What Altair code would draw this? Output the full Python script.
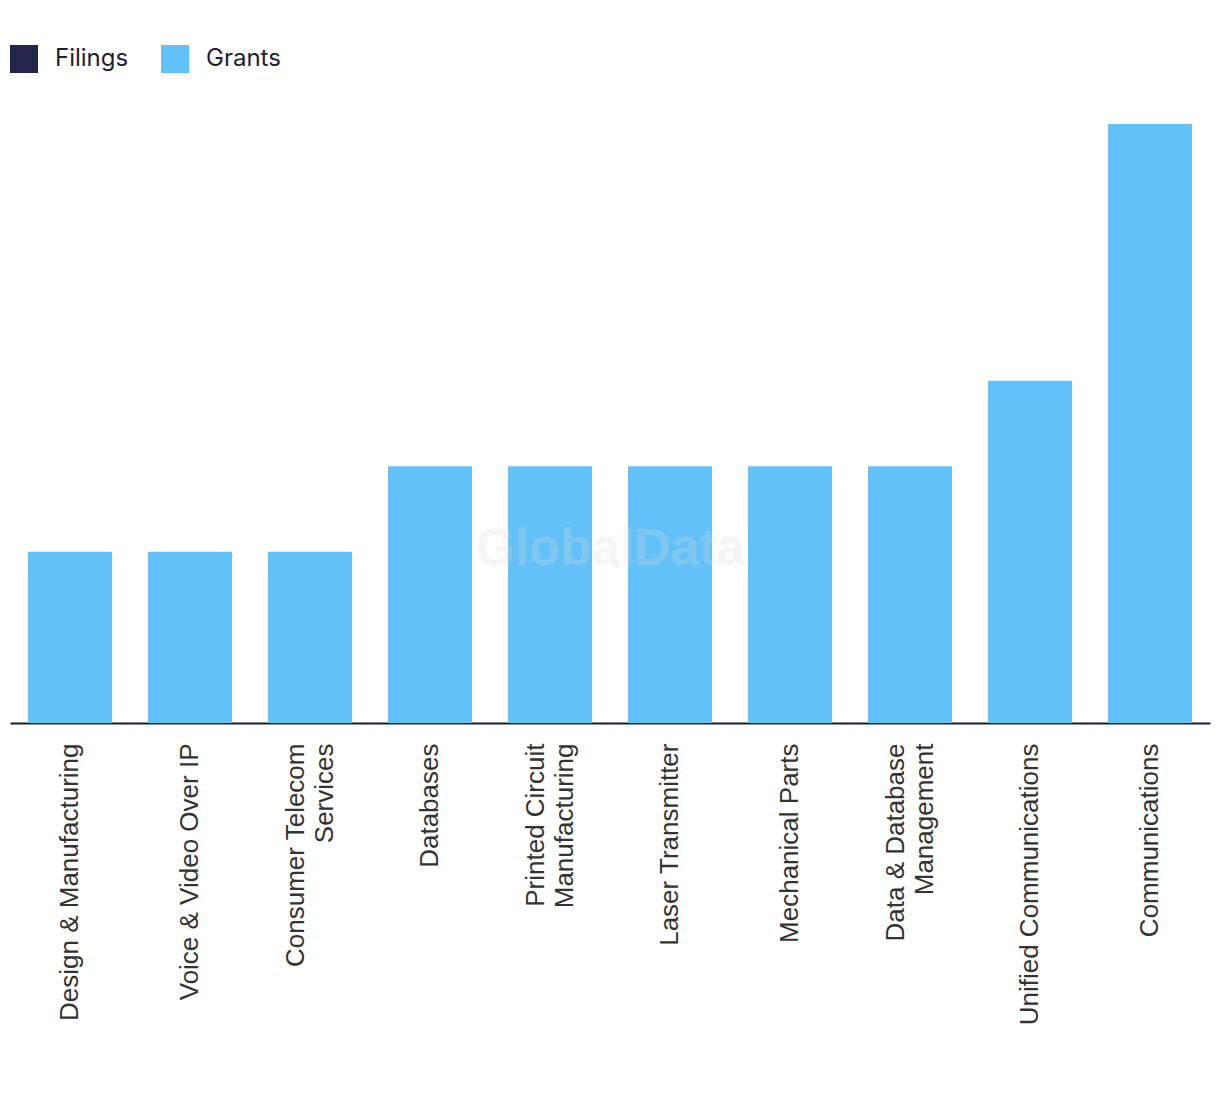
import altair as alt
import pandas as pd

categories = [
    "Design & Manufacturing",
    "Voice & Video Over IP",
    "Consumer Telecom Services",
    "Databases",
    "Printed Circuit Manufacturing",
    "Laser Transmitter",
    "Mechanical Parts",
    "Data & Database Management",
    "Unified Communications",
    "Communications",
]
filings = [0, 0, 0, 0, 0, 0, 0, 0, 0, 0]
grants = [2, 2, 2, 3, 3, 3, 3, 3, 4, 7]
series = ["Filings", "Grants"]
colors = ["#25264d", "#63c1f8"]

rows = []
for c, f, g in zip(categories, filings, grants):
    rows.append({"category": c, "series": "Filings", "value": f})
    rows.append({"category": c, "series": "Grants", "value": g})
df = pd.DataFrame(rows)

label_expr = (
    "datum.label == 'Consumer Telecom Services' ? ['Consumer Telecom', 'Services'] : "
    "datum.label == 'Printed Circuit Manufacturing' ? ['Printed Circuit', 'Manufacturing'] : "
    "datum.label == 'Data & Database Management' ? ['Data & Database', 'Management'] : datum.label"
)
two_line_test = (
    "datum.value == 'Consumer Telecom Services' || "
    "datum.value == 'Printed Circuit Manufacturing' || "
    "datum.value == 'Data & Database Management'"
)

bars = alt.Chart(df).mark_bar().encode(
    x=alt.X(
        "category:N",
        sort=categories,
        title=None,
        scale=alt.Scale(paddingInner=0.3, paddingOuter=0.15),
        axis=alt.Axis(
            labelAngle=-90,
            labelFont="Liberation Sans",
            labelFontSize=26,
            labelColor="#333333",
            labelLimit=0,
            labelPadding=20,
            labelLineHeight=29,
            labelExpr=label_expr,
            labelOffset={"condition": {"test": two_line_test, "value": -14}, "value": 0},
            ticks=False,
            domainColor="#1a1a2e",
            domainWidth=2,
        ),
    ),
    y=alt.Y(
        "value:Q",
        stack="zero",
        scale=alt.Scale(domain=[0, 7], nice=False),
        axis=None,
    ),
    color=alt.Color(
        "series:N",
        scale=alt.Scale(domain=series, range=colors),
        legend=alt.Legend(
            title=None,
            orient="none",
            legendX=0,
            legendY=-79,
            direction="horizontal",
            symbolType="square",
            symbolSize=784,
            symbolStrokeWidth=0,
            symbolOpacity=1,
            labelFont="Inter",
            labelFontSize=24,
            labelColor="#1d1d3a",
            labelOffset=17,
            columnPadding=32,
        ),
    ),
    order=alt.Order("series:N", sort="ascending"),
)

watermark = alt.Chart(pd.DataFrame({"t": ["GlobalData"]})).mark_text(
    font="Liberation Sans",
    fontSize=51,
    fontWeight="bold",
    color="#d8d8d8",
    opacity=0.25,
).encode(
    text="t:N",
    x=alt.value(600),
    y=alt.value(426),
)

chart = alt.layer(bars, watermark).properties(
    width=1200,
    height=599,
    padding={"top": 37, "left": 2, "right": 2, "bottom": 10},
    background="white",
).configure_view(strokeWidth=0, stroke=None)

chart.save("out.html", embed_options={"renderer": "svg", "actions": False})
